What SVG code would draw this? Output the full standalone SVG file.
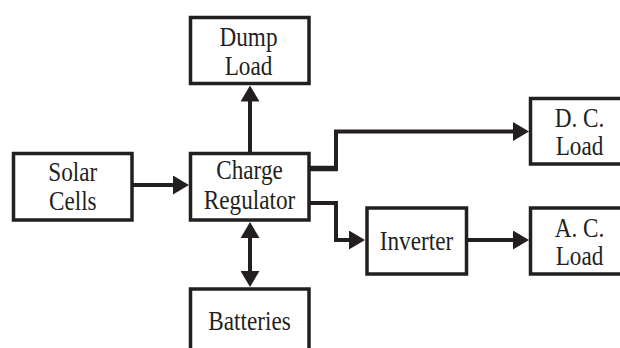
<svg xmlns="http://www.w3.org/2000/svg" width="620" height="348" viewBox="0 0 620 348">
<style>
.box{fill:#fff;stroke:#231f20;stroke-width:3.5}
.lbl{font-family:"Liberation Serif","Times New Roman",serif;font-size:27px;fill:#231f20;text-anchor:middle}
.wire{fill:none;stroke:#231f20;stroke-width:4;stroke-linejoin:miter}
</style>
<defs>
<marker id="ah" viewBox="0 0 16 19" markerUnits="userSpaceOnUse" markerWidth="16" markerHeight="19" refX="3" refY="9.5" orient="auto-start-reverse">
<path d="M0,0 L16,9.5 L0,19 Z" fill="#231f20"/>
</marker>
</defs>
<rect width="620" height="348" fill="#fff"/>
<g id="connectors">
<line class="wire" x1="132" y1="185" x2="176" y2="185" marker-end="url(#ah)"/>
<line class="wire" x1="250" y1="153" x2="250" y2="98.5" marker-end="url(#ah)"/>
<line class="wire" x1="250" y1="235" x2="250" y2="274" marker-start="url(#ah)" marker-end="url(#ah)"/>
<line class="wire" style="stroke-width:5.5" x1="309" y1="168.5" x2="337" y2="168.5"/>
<path class="wire" d="M336,171 V131.5 H516" marker-end="url(#ah)"/>
<path class="wire" d="M309,203 H336 V240 H352" marker-end="url(#ah)"/>
<line class="wire" x1="466" y1="240" x2="516" y2="240" marker-end="url(#ah)"/>
</g>
<g id="solar-cells">
<rect class="box" x="13.5" y="153.5" width="118.5" height="66.5"/>
<g transform="translate(72.8 0) scale(0.86 1)"><text class="lbl" x="0" y="181">Solar</text><text class="lbl" x="0" y="210">Cells</text></g>
</g>
<g id="charge-regulator">
<rect class="box" x="190.5" y="153.5" width="118.5" height="66.5"/>
<g transform="translate(249.5 0) scale(0.86 1)"><text class="lbl" x="0" y="179.5">Charge</text><text class="lbl" x="0" y="209">Regulator</text></g>
</g>
<g id="dump-load">
<rect class="box" x="190.5" y="17.5" width="118.5" height="66"/>
<g transform="translate(248.5 0) scale(0.86 1)"><text class="lbl" x="0" y="46.5">Dump</text><text class="lbl" x="0" y="75">Load</text></g>
</g>
<g id="batteries">
<rect class="box" x="190.5" y="289" width="118.5" height="70"/>
<g transform="translate(249.5 0) scale(0.86 1)"><text class="lbl" x="0" y="330">Batteries</text></g>
</g>
<g id="dc-load">
<rect class="box" x="530.5" y="98.5" width="98" height="65.5"/>
<g transform="translate(579.5 0) scale(0.86 1)"><text class="lbl" x="0" y="127">D. C.</text><text class="lbl" x="0" y="155.5">Load</text></g>
</g>
<g id="inverter">
<rect class="box" x="367" y="208" width="99.5" height="66"/>
<g transform="translate(416.5 0) scale(0.86 1)"><text class="lbl" x="0" y="250">Inverter</text></g>
</g>
<g id="ac-load">
<rect class="box" x="530.5" y="208" width="98" height="66"/>
<g transform="translate(579.5 0) scale(0.86 1)"><text class="lbl" x="0" y="237">A. C.</text><text class="lbl" x="0" y="265.5">Load</text></g>
</g>
</svg>
